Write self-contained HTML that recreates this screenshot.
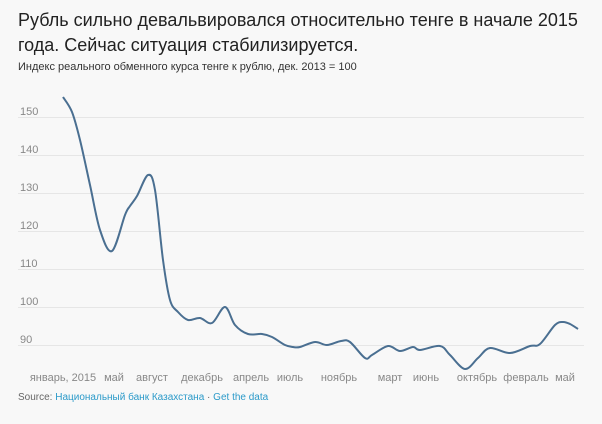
<!DOCTYPE html>
<html><head><meta charset="utf-8"><style>
body{margin:0;background:#f8f8f8;width:602px;height:424px;overflow:hidden;font-family:"Liberation Sans",sans-serif}
.t{position:absolute;left:18px;top:8px;font-size:18px;line-height:25px;color:#222;width:580px}
.s{position:absolute;left:18px;top:61px;font-size:11px;color:#333}
.src{position:absolute;left:18px;top:392px;font-size:10px;color:#666}
.src span{color:#2b9ac9}
svg{position:absolute;left:0;top:0}
text{font-family:"Liberation Sans",sans-serif;fill:#888;font-size:11px}
</style></head><body>
<div class="t">Рубль сильно девальвировался относительно тенге в начале 2015 года. Сейчас ситуация стабилизируется.</div>
<div class="s">Индекс реального обменного курса тенге к рублю, дек. 2013 = 100</div>
<svg width="602" height="424">
<g stroke="#e6e6e6" stroke-width="1">
<line x1="18" x2="584" y1="117.5" y2="117.5"/><line x1="18" x2="584" y1="155.5" y2="155.5"/>
<line x1="18" x2="584" y1="193.5" y2="193.5"/><line x1="18" x2="584" y1="231.5" y2="231.5"/>
<line x1="18" x2="584" y1="269.5" y2="269.5"/><line x1="18" x2="584" y1="307.5" y2="307.5"/>
<line x1="18" x2="584" y1="345.5" y2="345.5"/></g>
<g><text x="20" y="115">150</text><text x="20" y="153">140</text><text x="20" y="191">130</text><text x="20" y="229">120</text><text x="20" y="267">110</text><text x="20" y="305">100</text><text x="20" y="343">90</text></g>
<g text-anchor="middle"><text x="63" y="381">январь, 2015</text><text x="114" y="381">май</text><text x="152" y="381">август</text><text x="202" y="381">декабрь</text><text x="251" y="381">апрель</text><text x="290" y="381">июль</text><text x="339" y="381">ноябрь</text><text x="390" y="381">март</text><text x="426" y="381">июнь</text><text x="477" y="381">октябрь</text><text x="526" y="381">февраль</text><text x="565" y="381">май</text></g>
<path id="ln" fill="none" stroke="#4a6f91" stroke-width="2"/>
</svg>
<div class="src">Source: <span>Национальный банк Казахстана</span> · <span>Get the data</span></div>
<script>
var p=[[63,97],[72,112],[80,140],[90,185],[100,230],[112,251],[125,215],[130,206],[137,196],[148,175],[155,190],[163,260],[170,300],[178,312],[188,320],[200,318],[212,323],[225,307],[235,325],[248,334],[262,334],[272,337],[285,345],[293,347],[300,347],[315,342],[327,345],[341,341],[350,342],[365,358],[372,355],[388,346],[400,351],[413,347],[420,350],[440,346],[450,355],[465,369],[478,358],[490,348],[510,353],[530,346],[540,344],[555,325],[563,322],[570,324],[578,329]];
var d="M"+p[0];
for(var i=0;i<p.length-1;i++){var a=p[i-1]||p[i],b=p[i],c=p[i+1],e=p[i+2]||c;
d+=" C"+(b[0]+(c[0]-a[0])/6)+","+(b[1]+(c[1]-a[1])/6)+" "+(c[0]-(e[0]-b[0])/6)+","+(c[1]-(e[1]-b[1])/6)+" "+c;}
document.getElementById("ln").setAttribute("d",d);
</script>
</body></html>
